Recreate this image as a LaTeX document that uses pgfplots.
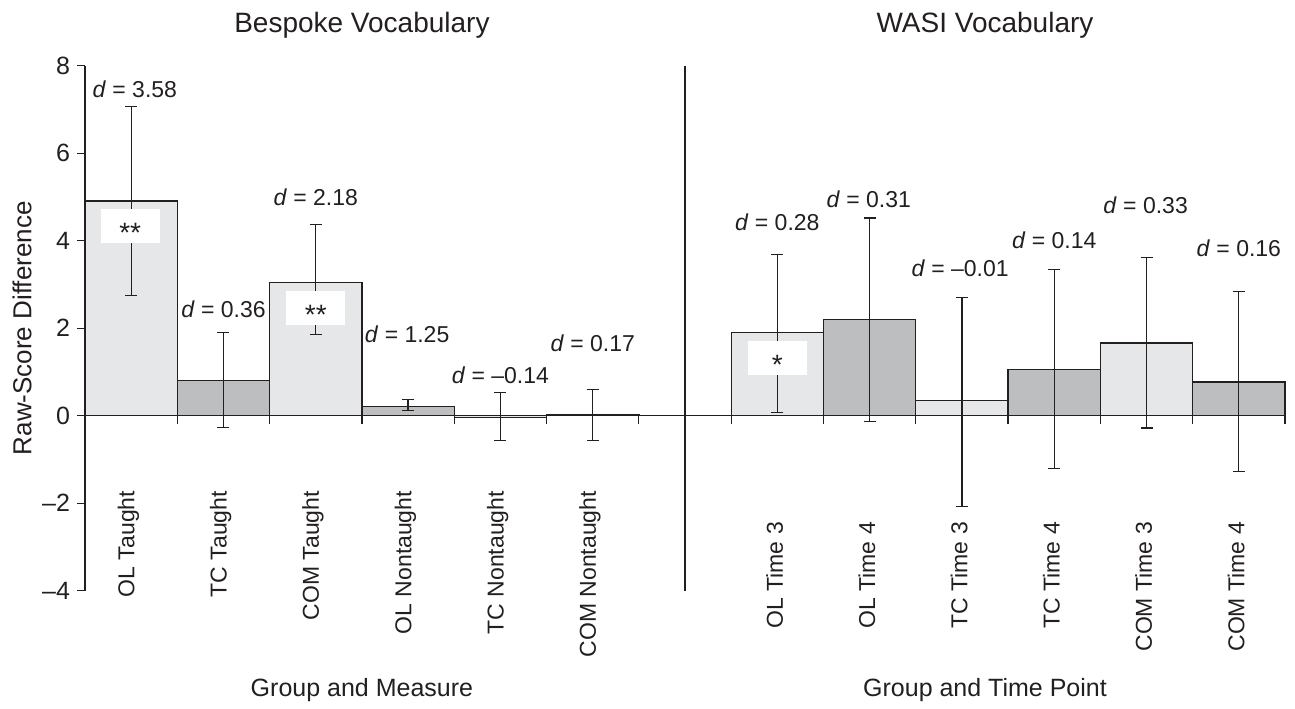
\documentclass[border=0pt]{standalone}
\usepackage{pgfplots}
\pgfplotsset{compat=1.18}
\usepackage{fontspec}
\setmainfont{Liberation Sans}
\definecolor{barlight}{HTML}{E6E7E8}
\definecolor{bardark}{HTML}{BCBEC0}
\definecolor{ink}{HTML}{231F20}
\newcommand{\dfont}{\fontsize{11.5}{13}\selectfont}
\newcommand{\tfont}{\fontsize{14}{16}\selectfont}
\newcommand{\lfont}{\fontsize{12.5}{14}\selectfont}
\newcommand{\sfont}{\fontsize{14}{16}\selectfont}
\begin{document}
\begin{tikzpicture}
\useasboundingbox (-42.5pt,-58.65pt) rectangle (605pt,295.35pt);
\begin{axis}[
  at={(0pt,0pt)}, anchor=south west,
  scale only axis, width=600pt, height=262.5pt,
  xmin=0, xmax=13, ymin=-4, ymax=8,
  axis x line=middle, axis y line=left,
  axis line style={-, ink, line width=0.75pt},
  hide obscured x ticks=false, hide obscured y ticks=false,
  xtick={0,1,2,3,4,5,6,7,8,9,10,11,12,13}, xticklabels={},
  ytick={-4,-2,0,2,4,6,8}, yticklabels={–4,–2,0,2,4,6,8},
  tick align=outside, major tick length=4pt,
  tick style={ink, line width=0.6pt},
  yticklabel style={font=\fontsize{12.5}{14}\selectfont, ink},
  clip=false,
]
\addplot[ybar, bar width=1, bar shift=0pt, fill=barlight, draw=ink, line width=0.65pt,
  error bars/.cd, y dir=both, y explicit, error mark=-,
  error bar style={ink, line width=0.6pt},
  error mark options={rotate=90, mark size=3pt, line width=0.6pt, ink}]
  table[x=x, y=y, y error plus=ep, y error minus=em] {
x    y     ep    em
0.5  4.91  2.15  2.16
2.5  3.05  1.32  1.20
4.5  -0.04 0.57  0.53
7.5  1.90  1.79  1.83
9.5  0.34  2.36  2.42
11.5 1.66  1.95  1.94
};
\addplot[ybar, bar width=1, bar shift=0pt, fill=bardark, draw=ink, line width=0.65pt,
  error bars/.cd, y dir=both, y explicit, error mark=-,
  error bar style={ink, line width=0.6pt},
  error mark options={rotate=90, mark size=3pt, line width=0.6pt, ink}]
  table[x=x, y=y, y error plus=ep, y error minus=em] {
x    y     ep    em
1.5  0.80  1.10  1.07
3.5  0.21  0.16  0.09
5.5  0.03  0.57  0.60
8.5  2.20  2.32  2.33
10.5 1.06  2.29  2.27
12.5 0.77  2.07  2.05
};
% separator
\draw[ink, line width=0.6pt] (axis cs:6.5,-4) -- (axis cs:6.5,8);
% significance boxes
\begin{scope}[box/.style={fill=white, minimum width=29.5pt, minimum height=17pt, inner sep=0pt},
              star/.style={anchor=base, inner sep=0pt, font=\sfont, text=ink, yshift=-8.2pt}]
\node[box] at (axis cs:0.49,4.33) {};
\node[star] at (axis cs:0.49,4.33) {**};
\node[box] at (axis cs:2.5,2.46) {};
\node[star] at (axis cs:2.5,2.46) {**};
\node[box] at (axis cs:7.5,1.32) {};
\node[star] at (axis cs:7.5,1.32) {*};
\end{scope}
% effect sizes
\begin{scope}[every node/.style={font=\dfont, text=ink}]
\node at (axis cs:0.54,7.46) {\textit{d} = 3.58};
\node at (axis cs:1.50,2.43) {\textit{d} = 0.36};
\node at (axis cs:2.50,5.00) {\textit{d} = 2.18};
\node at (axis cs:3.49,1.85) {\textit{d} = 1.25};
\node at (axis cs:4.50,0.92) {\textit{d} = –0.14};
\node at (axis cs:5.50,1.65) {\textit{d} = 0.17};
\node at (axis cs:7.50,4.42) {\textit{d} = 0.28};
\node at (axis cs:8.49,4.95) {\textit{d} = 0.31};
\node at (axis cs:9.48,3.37) {\textit{d} = –0.01};
\node at (axis cs:10.50,4.01) {\textit{d} = 0.14};
\node at (axis cs:11.49,4.81) {\textit{d} = 0.33};
\node at (axis cs:12.50,3.82) {\textit{d} = 0.16};
\end{scope}
% category labels
\begin{scope}[every node/.style={font=\dfont, text=ink, rotate=90, anchor=east}]
\node at (axis cs:0.47,-1.56) {OL Taught};
\node at (axis cs:1.47,-1.56) {TC Taught};
\node at (axis cs:2.47,-1.56) {COM Taught};
\node at (axis cs:3.47,-1.56) {OL Nontaught};
\node at (axis cs:4.47,-1.56) {TC Nontaught};
\node at (axis cs:5.47,-1.56) {COM Nontaught};
\node at (axis cs:7.47,-2.27) {OL Time 3};
\node at (axis cs:8.47,-2.27) {OL Time 4};
\node at (axis cs:9.47,-2.27) {TC Time 3};
\node at (axis cs:10.47,-2.27) {TC Time 4};
\node at (axis cs:11.47,-2.27) {COM Time 3};
\node at (axis cs:12.47,-2.27) {COM Time 4};
\end{scope}
% titles and axis labels
\node[font=\tfont, text=ink] at (axis cs:3.0,8.93) {Bespoke Vocabulary};
\node[font=\tfont, text=ink] at (axis cs:9.75,8.93) {WASI Vocabulary};
\node[font=\lfont, text=ink] at (axis cs:3.0,-6.28) {Group and Measure};
\node[font=\lfont, text=ink] at (axis cs:9.75,-6.28) {Group and Time Point};
\node[font=\fontsize{13}{15}\selectfont, text=ink, rotate=90] at ([xshift=-31.5pt]axis cs:0,2) {Raw-Score Difference};
\end{axis}
\end{tikzpicture}
\end{document}
